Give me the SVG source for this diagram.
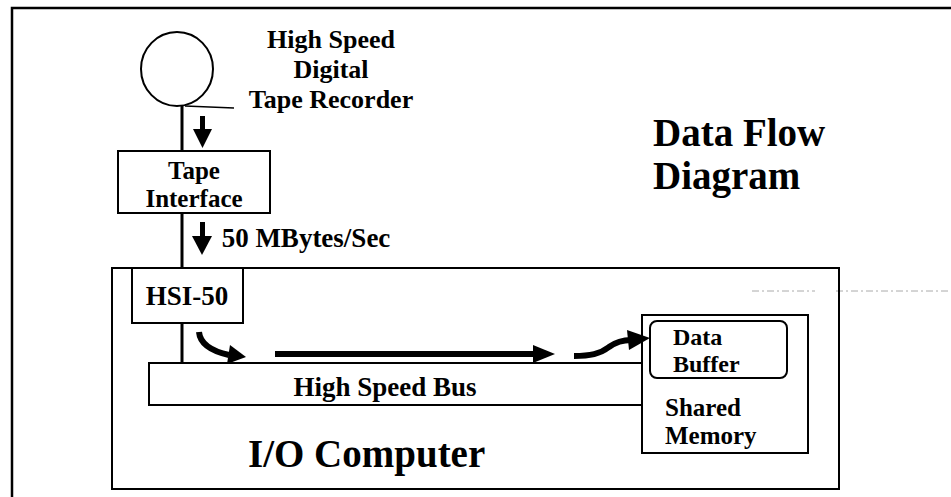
<svg xmlns="http://www.w3.org/2000/svg" width="951" height="497" viewBox="0 0 951 497">
<style>
  .box { fill: none; stroke: #000; stroke-width: 2; }
  .t { font-family: "Liberation Serif", "Times New Roman", serif; font-weight: bold; fill: #000; }
  .lbl { font-size: 25px; }
  .mid { text-anchor: middle; }
  .wire { fill: none; stroke: #000; stroke-width: 3; }
  .flow { fill: none; stroke: #000; stroke-width: 6; }
  .head { fill: #000; stroke: none; }
</style>
<rect width="951" height="497" fill="#fff"/>
<g id="frame">
  <path d="M12,497 V8 H951" fill="none" stroke="#000" stroke-width="2.5"/>
  <path d="M752,291 H815 M836,291 H951" fill="none" stroke="#aaa" stroke-width="1" stroke-dasharray="7 3 2 3"/>
</g>
<g id="title">
  <text class="t" x="653" y="146" font-size="39">Data Flow</text>
  <text class="t" x="653" y="189" font-size="39">Diagram</text>
</g>
<g id="tape-recorder">
  <ellipse cx="177" cy="69" rx="36" ry="37" class="box"/>
  <text class="t mid" x="331" y="48" font-size="26">High Speed</text>
  <text class="t mid" x="331" y="78" font-size="26">Digital</text>
  <text class="t mid" x="331" y="108" font-size="26">Tape Recorder</text>
</g>
<g id="tape-interface">
  <rect x="118" y="151" width="152" height="62" class="box"/>
  <text class="t lbl mid" x="194" y="179">Tape</text>
  <text class="t lbl mid" x="194" y="207">Interface</text>
</g>
<g id="io-computer">
  <rect x="112" y="268" width="727" height="221" class="box"/>
  <text class="t" x="248" y="467" font-size="39">I/O Computer</text>
</g>
<g id="hsi-50">
  <rect x="132" y="268" width="111" height="55" class="box" style="fill:#fff"/>
  <text class="t mid" x="187" y="305" font-size="27">HSI-50</text>
</g>
<g id="high-speed-bus">
  <rect x="149" y="363" width="493" height="42" class="box"/>
  <text class="t mid" x="385" y="396" font-size="27">High Speed Bus</text>
</g>
<g id="shared-memory">
  <rect x="642" y="315" width="166" height="138" class="box" style="fill:#fff"/>
  <text class="t lbl" x="665" y="416">Shared</text>
  <text class="t lbl" x="665" y="444">Memory</text>
</g>
<g id="data-buffer">
  <rect x="650" y="321" width="137" height="57" rx="7" class="box"/>
  <text class="t" x="673" y="345" font-size="24">Data</text>
  <text class="t" x="673" y="372" font-size="24">Buffer</text>
</g>
<g id="connectors">
  <line x1="185" y1="106" x2="234" y2="108" stroke="#000" stroke-width="1.5"/>
  <line x1="182" y1="105" x2="182" y2="151" class="wire"/>
  <line x1="182" y1="213" x2="182" y2="268" class="wire"/>
  <line x1="182" y1="323" x2="182" y2="363" class="wire"/>
  <rect x="200" y="116" width="5" height="14" class="head"/>
  <polygon points="193,129 212,129 202.5,148" class="head"/>
  <rect x="200" y="222" width="5" height="16" class="head"/>
  <polygon points="192,236 212,236 202,255" class="head"/>
  <text class="t mid" x="306" y="247" font-size="27">50 MBytes/Sec</text>
  <path d="M199,332 C200,343 211,351 229,355" class="flow"/>
  <polygon points="230,345 246,357 227,364" class="head"/>
  <rect x="275" y="351" width="260" height="6" class="head"/>
  <polygon points="533,345 555,354 533,363" class="head"/>
  <path d="M574,356 C590,356 600,354 609,347 C616,342 622,340 631,340" class="flow"/>
  <polygon points="627,330 650,338 629,350" class="head"/>
</g>
</svg>
